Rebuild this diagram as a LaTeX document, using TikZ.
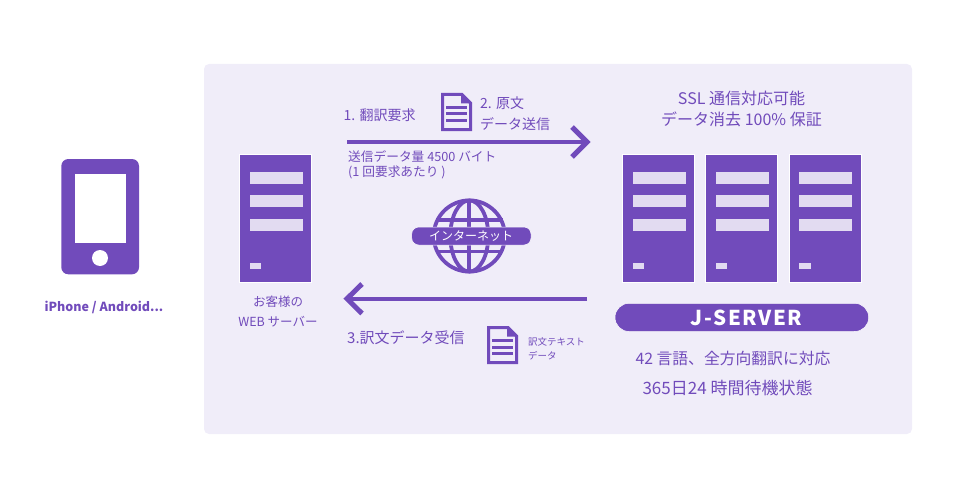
\documentclass[tikz,border=0pt]{standalone}
\usepackage{fontspec}
\setmainfont{Noto Sans CJK JP}
\newfontfamily\spacedfont[LetterSpace=8]{Noto Sans CJK JP}
\usetikzlibrary{positioning}
\definecolor{violet}{HTML}{714BBB}
\definecolor{panel}{HTML}{F0EDF9}
\definecolor{slot}{HTML}{E2DBF1}
\tikzset{
  label/.style={text=violet, inner sep=0pt, align=center},
  flow/.style={draw=violet, line width=4pt},
  flowtip/.style={draw=violet, line width=5pt},
  server/.style={fill=violet, draw=white, line width=0.5pt},
  slotbar/.style={fill=slot},
  globeline/.style={draw=violet, line width=3.8pt},
}
\newcommand{\serverbox}[2]{%
  \fill[server] (#1,154.5) rectangle (#1+72,282.5);
  \foreach \y in {171.5,195,219} {
    \fill[slotbar] (#1+10,\y) rectangle (#1+63,\y+12);
  }
  \fill[slotbar] (#1+10,263) rectangle (#1+21.5,269);
  \coordinate (#2) at (#1+36,218);
}
\newcommand{\docicon}[2]{%
  \begin{scope}[shift={(#1,#2)}]
    \fill[violet] (20,0) -- (31,10.5) -- (20,10.5) -- cycle;
    \draw[violet, line width=3pt] (1.5,1.5) -- (21,1.5) -- (29.5,10) -- (29.5,36.5) -- (1.5,36.5) -- cycle;
    \foreach \y in {14.5,21,27.5} {
      \draw[violet, line width=3pt] (5,\y) -- (25.7,\y);
    }
  \end{scope}
}
\begin{document}
\begin{tikzpicture}[x=1pt, y=-1pt]
\useasboundingbox (0,0) rectangle (960,500);
% Panel
\fill[panel, rounded corners=5pt] (204,64) rectangle (912,434);

% Phone
\fill[violet, rounded corners=7pt] (61.3,159) rectangle (139,274.3);
\fill[white] (74.5,174) rectangle (125.7,242.7);
\fill[white] (100,258) circle (8);
\node[label, font=\fontsize{12.5}{14}\selectfont\bfseries] (phonelabel) at (104,307.5) {iPhone / Android...};

% Servers
\serverbox{239.5}{webserver}
\serverbox{622.5}{serverone}
\serverbox{705.7}{servertwo}
\serverbox{789}{serverthree}
\node[label, font=\fontsize{12.5}{19.5}\selectfont] (weblabel) at (278,311.5) {お客様の\\WEB サーバー};

% Arrows
\coordinate (sendstart) at (347,142);
\coordinate (sendend) at (587,142);
\coordinate (recvstart) at (587,298.7);
\coordinate (recvend) at (347,298.7);
\draw[flow] (sendstart) -- (sendend);
\draw[flowtip] (572,127) -- (sendend) -- (572,157);
\draw[flow] (recvstart) -- (recvend);
\draw[flowtip] (362,284) -- (recvend) -- (362,313.5);

% Labels along the arrows
\node[label, anchor=west, font=\fontsize{14}{16}\selectfont] (req) at (343.5,115) {1. 翻訳要求};
\docicon{441}{93}
\node[label, anchor=west, align=left, font=\fontsize{14}{20.5}\selectfont] (orig) at (480,113.5) {2. 原文\\データ送信};
\node[label, anchor=west, align=left, font=\fontsize{12.7}{14.5}\selectfont] (sent) at (348,165) {送信データ量 4500 バイト\\(1 回要求あたり )};
\node[label, anchor=west, font=\fontsize{15}{17}\selectfont] (recv) at (347,338) {3.訳文データ受信};
\docicon{487}{326}
\node[label, anchor=west, align=left, font=\fontsize{9.5}{14}\selectfont] (text) at (528,349) {訳文テキスト\\データ};

% Globe
\draw[globeline] (469.3,236) circle (35.6);
\draw[globeline] (469.3,200) -- (469.3,272);
\draw[globeline] (469.3,236) ellipse (19 and 35.6);
\draw[globeline] (436,220) -- (503,220);
\draw[globeline] (436,251.5) -- (503,251.5);
\fill[violet, draw=white, line width=0.5pt, rounded corners=7pt] (411.7,227) rectangle (531,245);
\node[text=white, inner sep=0pt, font=\fontsize{12}{14}\selectfont] (net) at (471,236) {インターネット};

% Right side
\node[label, font=\fontsize{16}{20.5}\selectfont] (ssl) at (741.5,109) {SSL 通信対応可能\\データ消去 100\% 保証};
\fill[violet, draw=white, line width=0.5pt, rounded corners=14pt] (615,303.3) rectangle (868.7,331.5);
\node[text=white, inner sep=0pt, font=\fontsize{20.5}{22}\selectfont\spacedfont\bfseries] (jserver) at (746.5,317.5) {J-SERVER};
\node[label, font=\fontsize{15.8}{17}\selectfont] (lang) at (733,359) {42 言語、全方向翻訳に対応};
\node[label, font=\fontsize{17}{17}\selectfont] (hours) at (727.5,388.5) {365日24 時間待機状態};
\end{tikzpicture}
\end{document}
